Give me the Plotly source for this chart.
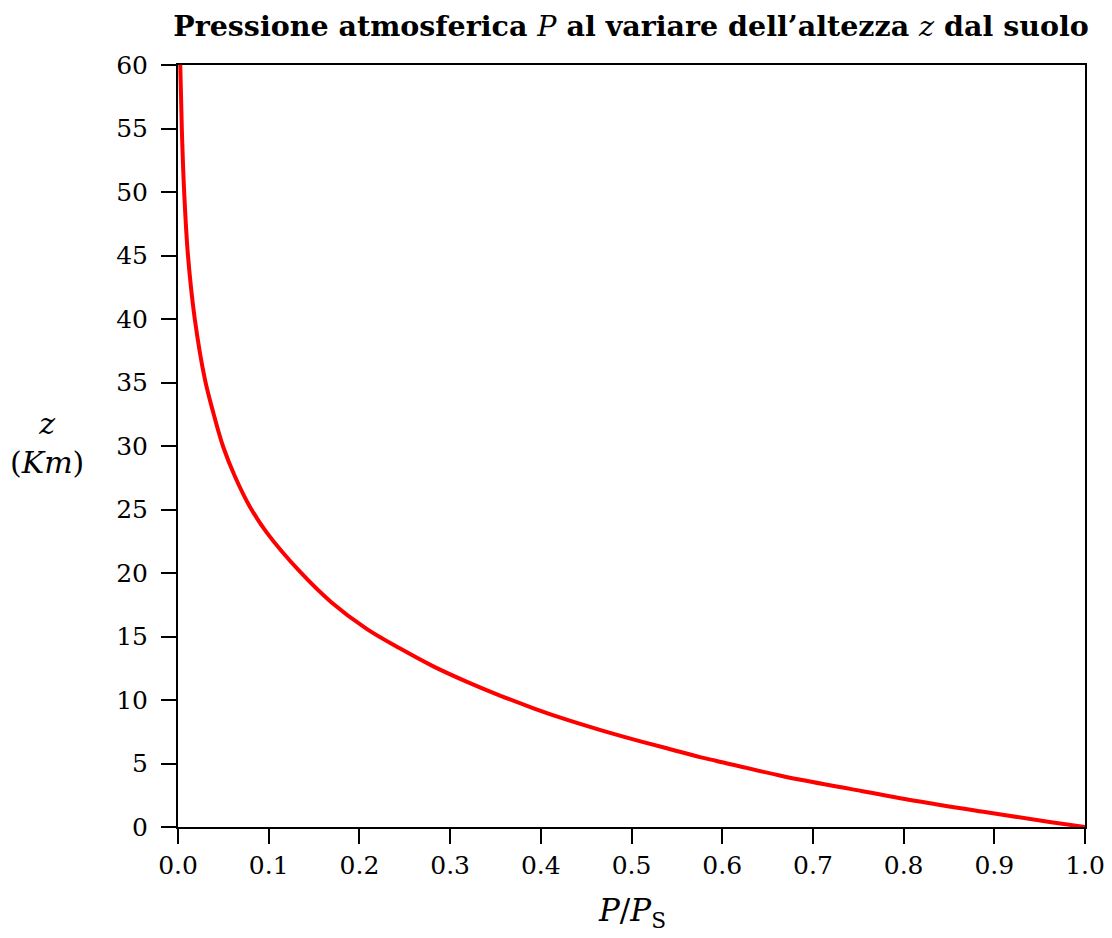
import plotly.graph_objects as go

# Values
p_ratio = [0.0025, 0.0042, 0.0068, 0.011, 0.0185, 0.0298, 0.039, 0.050, 0.0628, 0.0794,
           0.0977, 0.1345, 0.169, 0.208, 0.245, 0.2815, 0.318, 0.355, 0.392, 0.4285,
           0.465, 0.502, 0.539, 0.5755, 0.594, 0.667, 0.741, 0.814, 0.888, 0.961, 1.0]
z_km = [60, 55, 50, 45, 40, 35.2, 32.6, 29.9, 27.6, 25.2,
        23.2, 20.1, 17.7, 15.6, 14.05, 12.65, 11.45, 10.35, 9.35, 8.45,
        7.65, 6.9, 6.2, 5.5, 5.2, 4.0, 3.0, 2.05, 1.2, 0.4, 0]

x_ticks = [0.0, 0.1, 0.2, 0.3, 0.4, 0.5, 0.6, 0.7, 0.8, 0.9, 1.0]
x_tick_labels = ["0.0", "0.1", "0.2", "0.3", "0.4", "0.5", "0.6", "0.7", "0.8", "0.9", "1.0"]
y_ticks = [0, 5, 10, 15, 20, 25, 30, 35, 40, 45, 50, 55, 60]

FONT = "DejaVu Serif"

fig = go.Figure()
fig.add_trace(go.Scatter(
    x=p_ratio, y=z_km, mode="lines",
    line=dict(color="#ff0000", width=4, shape="spline", smoothing=1.0),
    showlegend=False, hoverinfo="x+y",
))

axis_common = dict(
    showgrid=False, zeroline=False, automargin=False,
    showline=True, linecolor="black", linewidth=2, mirror=True,
    ticks="outside", ticklen=15, tickwidth=2, tickcolor="black",
    tickfont=dict(family=FONT, size=25, color="black"),
)

fig.update_xaxes(range=[0, 1], tickvals=x_ticks, ticktext=x_tick_labels, **axis_common)
fig.update_yaxes(range=[0, 60], tickvals=y_ticks, ticklabelstandoff=8, **axis_common)

fig.update_layout(
    width=1112, height=938, autosize=False,
    margin=dict(l=178, r=27, t=65, b=111, autoexpand=False),
    paper_bgcolor="white", plot_bgcolor="white",
    title=dict(
        text="<b>Pressione atmosferica </b><i>P</i><b> al variare dell’altezza </b><i>z</i><b> dal suolo</b>",
        font=dict(family=FONT, size=28.5, color="black"),
        x=631 / 1112, xanchor="center", y=1 - 26 / 938, yanchor="middle",
    ),
    annotations=[
        dict(text="<i>z</i><br>(<i>Km</i>)", xref="paper", yref="paper",
             x=-0.1444, y=0.504, xanchor="center", yanchor="middle", showarrow=False,
             font=dict(family=FONT, size=30, color="black")),
        dict(text="<i>P</i>/<i>P</i><sub>S</sub>", xref="paper", yref="paper",
             x=0.5, y=-0.112, xanchor="center", yanchor="middle", showarrow=False,
             font=dict(family=FONT, size=31, color="black")),
    ],
)

fig.write_html("out.html", config={"displayModeBar": False, "responsive": False},
               post_script="document.body.style.margin='0';document.body.style.padding='0';")
